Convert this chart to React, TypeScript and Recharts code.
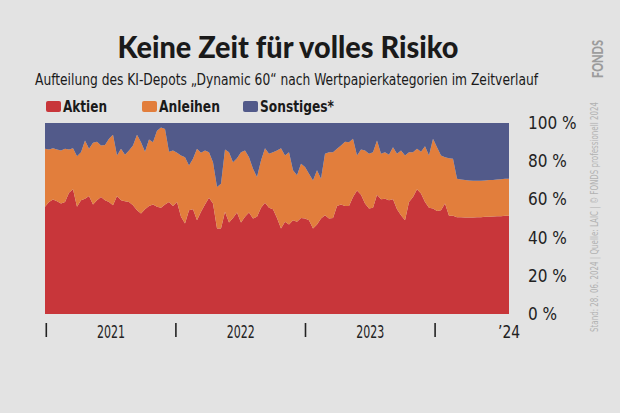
import { AreaChart, Area, XAxis, YAxis, Legend } from 'recharts';

// Anteile in % (Aktien unten, Anleihen Mitte, Sonstiges oben), ca. alle 11 Tage
const aktien = [
  56.1, 58.7, 59.9, 59.0, 57.8, 58.7, 63.5, 65.3, 56.1, 59.6,
  60.4, 61.8, 57.3, 59.6, 61.3, 59.6, 58.7, 56.9, 61.8, 59.6,
  59.0, 58.7, 56.9, 54.3, 52.6, 54.9, 56.6, 57.3, 56.1, 55.6,
  57.3, 58.7, 56.6, 58.7, 50.9, 47.4, 54.3, 54.9, 49.1, 53.5,
  57.3, 60.8, 57.8, 44.8, 44.8, 53.5, 47.9, 50.3, 53.2, 47.9,
  50.9, 53.2, 50.0, 50.9, 55.6, 58.3, 55.6, 54.9, 50.3, 44.8,
  48.3, 46.9, 49.1, 48.3, 50.3, 50.0, 49.1, 44.8, 46.9, 50.0,
  51.7, 50.0, 50.3, 56.6, 57.3, 56.6, 56.6, 61.3, 64.7, 62.5,
  57.8, 55.2, 55.6, 62.5, 60.1, 60.4, 59.6, 60.1, 54.9, 51.7,
  49.1, 58.7, 61.3, 65.3, 63.1, 58.7, 55.6, 55.2, 53.9, 54.3,
  57.8, 51.4, 51.4, 50.7, 50.7, 50.5, 50.5, 50.5, 50.7, 50.7,
  50.9, 50.9, 51.0, 51.2, 51.2, 51.4, 51.4,
];
const anleihen = [
  30.4, 27.4, 26.9, 27.1, 27.8, 27.8, 22.6, 21.5, 26.5, 25.1,
  30.4, 24.7, 32.3, 30.6, 26.9, 28.9, 33.0, 36.9, 21.2, 26.9,
  24.4, 26.9, 31.3, 39.5, 37.3, 30.1, 34.7, 32.6, 39.9, 42.1,
  39.6, 26.3, 29.0, 25.7, 32.1, 34.7, 23.5, 26.4, 37.4, 30.9,
  28.3, 23.9, 21.7, 21.7, 23.4, 32.6, 36.8, 29.2, 28.4, 36.8,
  34.7, 28.9, 26.0, 20.8, 24.8, 28.5, 28.3, 29.8, 35.3, 42.0,
  34.7, 37.8, 26.1, 24.3, 28.3, 26.9, 24.3, 25.1, 28.3, 20.8,
  32.2, 34.7, 34.4, 29.9, 30.9, 33.6, 33.3, 30.4, 18.3, 23.6,
  27.8, 28.7, 29.1, 28.3, 23.8, 24.3, 23.8, 27.2, 29.0, 33.9,
  33.9, 26.0, 23.4, 21.2, 21.9, 29.1, 27.4, 36.5, 33.4, 28.7,
  24.3, 30.2, 29.9, 20.1, 19.7, 19.7, 19.4, 19.2, 19.0, 19.0,
  19.0, 19.3, 19.2, 19.2, 19.4, 19.4, 19.4,
];
const sonstiges = [
  13.5, 13.9, 13.2, 13.9, 14.4, 13.5, 13.9, 13.2, 17.4, 15.3,
  9.2, 13.5, 10.4, 9.8, 11.8, 11.5, 8.3, 6.2, 17.0, 13.5,
  16.6, 14.4, 11.8, 6.2, 10.1, 15.0, 8.7, 10.1, 4.0, 2.3,
  3.1, 15.0, 14.4, 15.6, 17.0, 17.9, 22.2, 18.7, 13.5, 15.6,
  14.4, 15.3, 20.5, 33.5, 31.8, 13.9, 15.3, 20.5, 18.4, 15.3,
  14.4, 17.9, 24.0, 28.3, 19.6, 13.2, 16.1, 15.3, 14.4, 13.2,
  17.0, 15.3, 24.8, 27.4, 21.4, 23.1, 26.6, 30.1, 24.8, 29.2,
  16.1, 15.3, 15.3, 13.5, 11.8, 9.8, 10.1, 8.3, 17.0, 13.9,
  14.4, 16.1, 15.3, 9.2, 16.1, 15.3, 16.6, 12.7, 16.1, 14.4,
  17.0, 15.3, 15.3, 13.5, 15.0, 12.2, 17.0, 8.3, 12.7, 17.0,
  17.9, 18.4, 18.7, 29.2, 29.6, 29.8, 30.1, 30.3, 30.3, 30.3,
  30.1, 29.8, 29.8, 29.6, 29.4, 29.2, 29.2,
];

const START = 2020.99;
const STEP = 1 / 32.4;
const END = START + (aktien.length - 1) * STEP;

const yearMarks = [2021, 2022, 2023, 2024];
const yearLabels = ['2021', '2022', '2023'];
const yTicks = [0, 20, 40, 60, 80, 100];

const series = [
  { key: 'aktien', name: 'Aktien', color: '#c8363a' },
  { key: 'anleihen', name: 'Anleihen', color: '#e27e3c' },
  { key: 'sonstiges', name: 'Sonstiges*', color: '#525a8a' },
];

const data = aktien.map((a, i) => ({
  t: START + i * STEP,
  aktien: a,
  anleihen: anleihen[i],
  sonstiges: sonstiges[i],
}));

const NARROW = "'Liberation Sans Narrow', 'DejaVu Sans Condensed', 'Roboto', sans-serif";
const xTickValues = [...yearMarks, ...yearLabels.map((y) => Number(y) + 0.5), END];

function XTick({ x, y, payload }: any) {
  const v = payload.value;
  if (yearMarks.includes(v)) {
    return <line x1={x} x2={x} y1={y + 9} y2={y + 23} stroke="#222" strokeWidth={1.6} />;
  }
  const label = v === END ? '\u201924' : String(Math.floor(v));
  return (
    <text x={x} y={y + 24} textAnchor="middle" fontFamily={NARROW} fontSize={18} fill="#222"
      textLength={v === END ? 22 : 28} lengthAdjust="spacingAndGlyphs">
      {label}
    </text>
  );
}

function YTick({ x, y, payload }: any) {
  return (
    <text x={x} y={y + 6} textAnchor="start" fontFamily={NARROW} fontSize={17} fill="#222">
      {payload.value} %
    </text>
  );
}

const legendWidths = [96, 101, 100];
const legendTextLen = [44, 61, 74];

function LegendContent() {
  let left = 0;
  return (
    <svg width={320} height={22}>
      {series.map((s, i) => {
        const x0 = left;
        left += legendWidths[i];
        return (
          <g key={s.key}>
            <rect x={x0} y={6} width={15} height={11} rx={2} fill={s.color} />
            <text x={x0 + 17} y={17} fontFamily={NARROW} fontWeight={700} fontSize={16} fill="#1a1a1a"
              textLength={legendTextLen[i]} lengthAdjust="spacingAndGlyphs">
              {s.name}
            </text>
          </g>
        );
      })}
    </svg>
  );
}

export default function App() {
  return (
    <div style={{ position: 'fixed', left: 0, top: 0, width: 620, height: 413, background: '#e3e3e3' }}>
      <AreaChart width={620} height={413} data={data} margin={{ top: 97, right: 51, bottom: 69, left: 45 }}>
        <XAxis dataKey="t" type="number" domain={[START, END]} ticks={xTickValues} tick={<XTick />}
          axisLine={false} tickLine={false} tickSize={0} tickMargin={0} height={30} interval={0} />
        <YAxis orientation="right" type="number" domain={[0, 100]} ticks={yTicks} tick={<YTick />}
          axisLine={false} tickLine={false} tickSize={0} tickMargin={19} width={60} allowDataOverflow />
        <Legend verticalAlign="top" content={<LegendContent />}
          wrapperStyle={{ position: 'absolute', top: 95, left: 46, width: 320 }} />
        {series.map((s) => (
          <Area key={s.key} type="linear" dataKey={s.key} name={s.name} stackId="1" stroke="none"
            fill={s.color} fillOpacity={1} isAnimationActive={false} />
        ))}
      </AreaChart>
      <svg width={620} height={413} style={{ position: 'absolute', left: 0, top: 0, pointerEvents: 'none' }}>
        <text x={288} y={58} textAnchor="middle" fontFamily="'Lato', 'Roboto', sans-serif" fontWeight={900}
          fontSize={30} fill="#1a1a1a" textLength={341} lengthAdjust="spacingAndGlyphs">
          Keine Zeit für volles Risiko
        </text>
        <text x={35} y={85} fontFamily={NARROW} fontSize={15.5} fill="#1a1a1a" textLength={503}
          lengthAdjust="spacingAndGlyphs">
          Aufteilung des KI-Depots „Dynamic 60“ nach Wertpapierkategorien im Zeitverlauf
        </text>
        <text transform="translate(603,59) rotate(-90)" textAnchor="middle" fontFamily="'Lato', sans-serif"
          fontWeight={900} fontSize={15} fill="#9c9c9c" textLength={38} lengthAdjust="spacingAndGlyphs">
          FONDS
        </text>
        <text transform="translate(598,217) rotate(-90)" textAnchor="middle" fontFamily={NARROW} fontSize={11}
          fill="#b2b2b2" textLength={230} lengthAdjust="spacingAndGlyphs">
          Stand: 28. 06. 2024 | Quelle: LAIC | © FONDS professionell 2024
        </text>
      </svg>
    </div>
  );
}
